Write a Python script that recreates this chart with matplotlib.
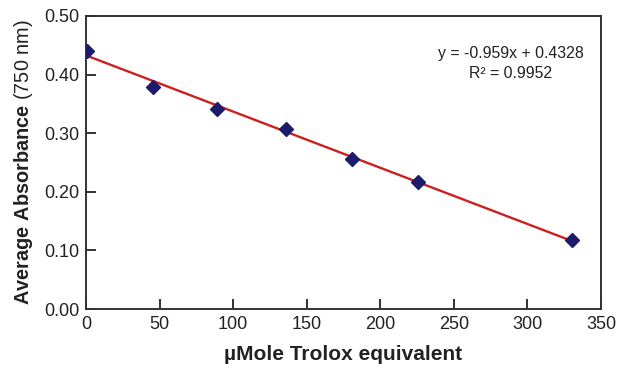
import numpy as np
import matplotlib
matplotlib.use("Agg")
import matplotlib.pyplot as plt

plt.rcParams['font.family'] = ['Liberation Sans', 'DejaVu Sans']
plt.rcParams['mathtext.fontset'] = 'custom'
plt.rcParams['mathtext.rm'] = 'Liberation Sans'
plt.rcParams['mathtext.bf'] = 'Liberation Sans:bold'

# Trolox standard curve
trolox = [0.7, 45.5, 89, 136, 181, 225.5, 330]
absorbance = [0.441, 0.378, 0.342, 0.307, 0.256, 0.217, 0.118]

# trendline as stated on the chart (x in mMole -> per µMole here)
slope = -0.959e-3
intercept = 0.4328
r2 = 0.9952

fig = plt.figure(figsize=(6.19, 3.69), dpi=100)
ax = fig.add_axes([86 / 619, 1 - 309 / 369, (601 - 86) / 619, (309 - 16) / 369])

x_fit = np.array([0, max(trolox)])
ax.plot(x_fit, slope * x_fit + intercept, color='#cc1f1f', lw=1.7, zorder=2)
ax.plot(trolox, absorbance, linestyle='none', marker='D', ms=7.5,
        color='#1c1c6b', zorder=3)

ax.set_xlim(0, 350)
ax.set_ylim(0, 0.5)
ax.set_xticks(np.arange(0, 351, 50))
ax.set_yticks(np.arange(0, 0.51, 0.1))
ax.set_yticklabels([f"{v:.2f}" for v in np.arange(0, 0.51, 0.1)])
ax.tick_params(direction='in', length=7, width=1.3, labelsize=13,
               colors='#222222', pad=5)
for s in ax.spines.values():
    s.set_linewidth(1.4)
    s.set_color('#333333')

ax.set_xlabel("µMole Trolox equivalent", fontsize=15, fontweight='bold',
              color='#222222', labelpad=9)
ax.set_ylabel(r"$\bf{Average\ Absorbance}$ (750 nm)", fontsize=14.3,
              color='#222222', labelpad=6)

ax.text(0.825, 0.838, f"y = {slope * 1000:.3f}x + {intercept}\nR² = {r2}",
        transform=ax.transAxes, ha='center', va='center', fontsize=11.4,
        linespacing=1.45, color='#222222')

fig.savefig("out.png", dpi=100)
